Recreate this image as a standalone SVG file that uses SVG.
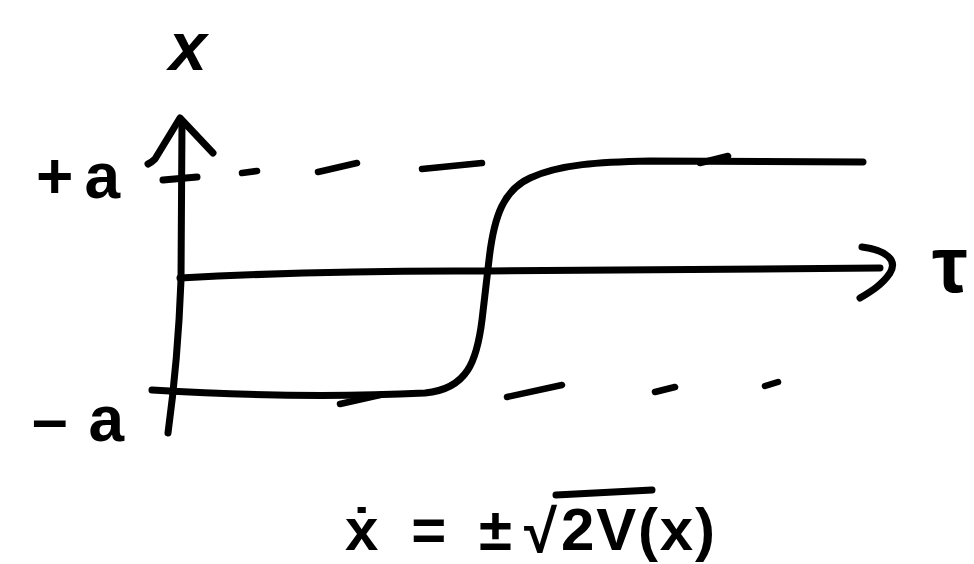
<svg xmlns="http://www.w3.org/2000/svg" width="974" height="564" viewBox="0 0 974 564">
<style>
.ink{fill:none;stroke:#000;stroke-width:7;stroke-linecap:round;stroke-linejoin:round}
.dash{fill:none;stroke:#000;stroke-width:6.5;stroke-linecap:round}
.lbl{font-family:"Liberation Sans","DejaVu Sans",sans-serif;font-weight:bold;fill:#000}
</style>
<rect width="974" height="564" fill="#fff"/>
<g id="connectors">
<path class="ink" d="M182,122 L181,280 Q178,360 168,433"/>
<path class="ink" d="M148,164 Q152,162 155,159 L180,118 L213,153"/>
<path class="ink" d="M163,180 L197,177"/>
<path class="ink" d="M180,278 Q330,270 490,271 L880,268"/>
<path class="ink" d="M862,247 C886,250 898,260 890,273 C882,285 870,292 860,298"/>
<path class="ink" d="M152,390 Q300,399 425,393 C468,389 477,360 482,320 L489,260 C494,215 504,190 530,178 C560,164 600,162 650,161 L863,162"/>
<path class="dash" d="M242,173 L257,171"/>
<path class="dash" d="M318,172 L357,163"/>
<path class="dash" d="M422,169 L482,163"/>
<path class="dash" d="M700,163 L728,156"/>
<path class="dash" d="M340,404 L380,395"/>
<path class="dash" d="M507,397 L562,385"/>
<path class="dash" d="M655,392 L675,387"/>
<path class="dash" d="M765,386 L778,382"/>
</g>
<g id="label-x"><text class="lbl" x="188" y="70" font-size="68" font-style="italic" text-anchor="middle">x</text></g>
<g id="label-plus-a"><text class="lbl" x="36" y="198" font-size="64" textLength="84">+a</text></g>
<g id="label-minus-a"><text class="lbl" x="32" y="441" font-size="64" textLength="92">–a</text></g>
<g id="label-tau"><text class="lbl" x="932" y="292" font-size="80">τ</text></g>
<g id="equation">
<text class="lbl" x="345" y="550" font-size="60" textLength="167">ẋ = ±</text>
<text class="lbl" x="524" y="552" font-size="60">√</text>
<path class="ink" d="M556,495 L652,490"/>
<text class="lbl" x="561" y="550" font-size="60" textLength="154">2V(x)</text>
</g>
</svg>
